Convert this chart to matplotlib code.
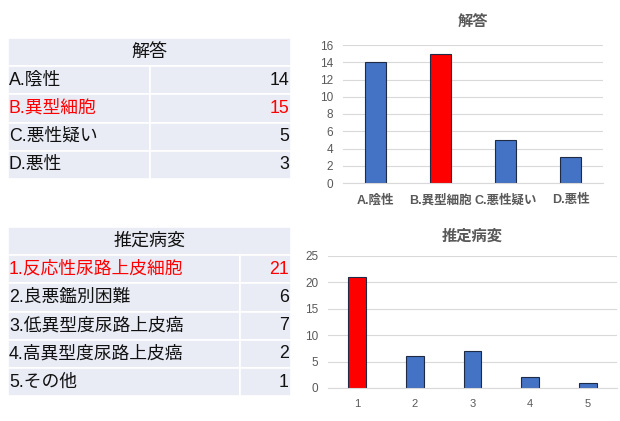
import matplotlib
matplotlib.use("Agg")
import matplotlib.pyplot as plt
from matplotlib.patches import Rectangle

FAM = ['Liberation Sans', 'Noto Sans CJK JP']
plt.rcParams['font.family'] = FAM

title1 = "解答"
cats1 = ["A.陰性", "B.異型細胞", "C.悪性疑い", "D.悪性"]
vals1 = [14, 15, 5, 3]
hi1 = 1

title2 = "推定病変"
cats2 = ["1.反応性尿路上皮細胞", "2.良悪鑑別困難", "3.低異型度尿路上皮癌", "4.高異型度尿路上皮癌", "5.その他"]
vals2 = [21, 6, 7, 2, 1]
ticks2 = ["1", "2", "3", "4", "5"]
hi2 = 0

BLUE = "#4472C4"
RED = "#FF0000"
CELL = "#E9EBF5"
GRAY = "#595959"

W, H = 620, 421
fig = plt.figure(figsize=(W / 100, H / 100), dpi=100)
bg = fig.add_axes([0, 0, 1, 1])
bg.set_xlim(0, W)
bg.set_ylim(H, 0)
bg.axis('off')


def draw_table(title, cats, vals, hi, x0, x1, xdiv, y0, rowh):
    bg.add_patch(Rectangle((x0, y0), x1 - x0, rowh, facecolor=CELL, edgecolor='white', lw=1.2))
    bg.text((x0 + x1) / 2, y0 + rowh / 2, title, ha='center', va='center', fontsize=13, color='#111111')
    for i, (c, v) in enumerate(zip(cats, vals)):
        y = y0 + rowh * (i + 1)
        col = RED if i == hi else '#111111'
        bg.add_patch(Rectangle((x0, y), xdiv - x0, rowh, facecolor=CELL, edgecolor='white', lw=1.2))
        bg.add_patch(Rectangle((xdiv, y), x1 - xdiv, rowh, facecolor=CELL, edgecolor='white', lw=1.2))
        bg.text(x0 + 1, y + rowh / 2, c, ha='left', va='center', fontsize=12.8, color=col)
        bg.text(x1 - 2, y + rowh / 2, str(v), ha='right', va='center', fontsize=12.8, color=col)


draw_table(title1, cats1, vals1, hi1, 8, 291, 150, 38, 28.2)
draw_table(title2, cats2, vals2, hi2, 8, 291, 240, 227, 28.2)


def pix_axes(l, r, top, bottom):
    return fig.add_axes([l / W, 1 - bottom / H, (r - l) / W, (bottom - top) / H])


def style(ax, ymax, step):
    ax.set_ylim(0, ymax)
    ax.set_yticks(range(0, ymax + 1, step))
    ax.grid(axis='y', color='#D9D9D9', lw=0.8)
    ax.set_axisbelow(True)
    for s in ['top', 'right', 'left']:
        ax.spines[s].set_visible(False)
    ax.spines['bottom'].set_color('#D9D9D9')
    ax.tick_params(axis='both', length=0, colors=GRAY)
    ax.tick_params(axis='y', pad=7, labelsize=8.5)


ax1 = pix_axes(343, 603, 45, 183)
cols1 = [RED if i == hi1 else BLUE for i in range(len(vals1))]
ax1.bar(range(len(vals1)), vals1, width=0.33, color=cols1, edgecolor='#1F2A44', lw=0.8)
ax1.set_xlim(-0.5, len(vals1) - 0.5)
style(ax1, 16, 2)
ax1.set_xticks(range(len(vals1)))
ax1.set_xticklabels(cats1, fontsize=9, fontweight='bold', color=GRAY)
ax1.tick_params(axis='x', pad=8)
ax1.set_title(title1, fontsize=11, fontweight='bold', color=GRAY, pad=13)

ax2 = pix_axes(328, 617, 256, 388)
cols2 = [RED if i == hi2 else BLUE for i in range(len(vals2))]
ax2.bar(range(len(vals2)), vals2, width=0.31, color=cols2, edgecolor='#1F2A44', lw=0.8)
ax2.set_xlim(-0.5, len(vals2) - 0.5)
style(ax2, 25, 5)
ax2.set_xticks(range(len(vals2)))
ax2.set_xticklabels(ticks2, fontsize=8, color=GRAY)
ax2.tick_params(axis='x', pad=8)
ax2.set_title(title2, fontsize=11, fontweight='bold', color=GRAY, pad=11)

fig.savefig("out.png", dpi=100)
